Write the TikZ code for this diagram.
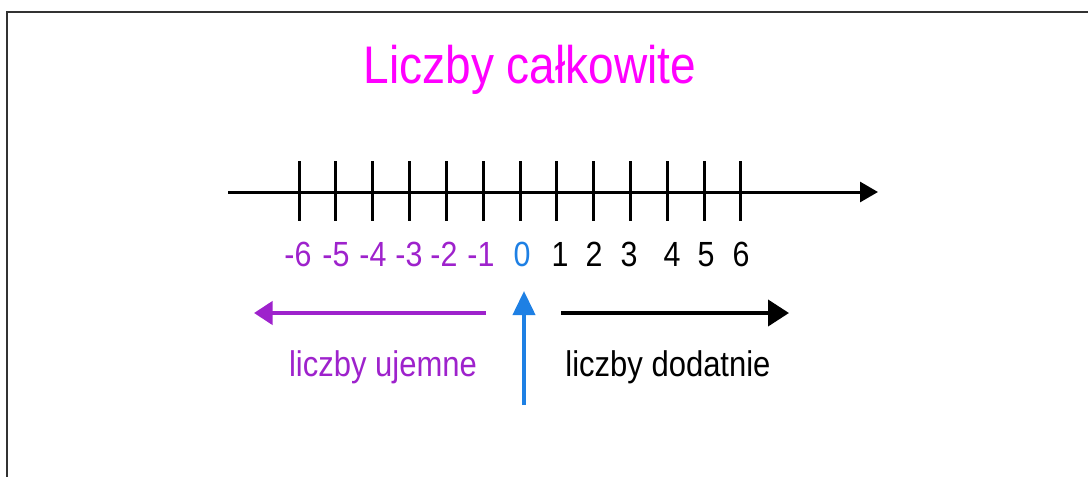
\documentclass[tikz,border=0pt]{standalone}
\usepackage{fontspec}
\setmainfont{Liberation Sans}
\usepackage{xcolor}
\usepackage{graphicx}
\usetikzlibrary{arrows.meta}

\definecolor{tytul}{RGB}{255,0,255}
\definecolor{ujemne}{RGB}{158,34,204}
\definecolor{zero}{RGB}{30,128,228}
\definecolor{ramka}{RGB}{50,50,50}
\newcommand{\wys}[1]{\scalebox{1}[1.15]{#1}}

\begin{document}
\begin{tikzpicture}[x=0.5pt, y=-0.5pt,
    cyfra/.style={anchor=base, font=\fontsize{15.2}{18}\selectfont},
    opis/.style={anchor=base, font=\fontsize{15.5}{19}\selectfont},
    strzalka/.style={line width=2pt}]
        \useasboundingbox (0,0) rectangle (1088,477);

        % Frame
        \draw[ramka, line width=1pt] (7,477) -- (7,12) -- (1088,12);

        % Title
        \node[tytul, anchor=base, font=\fontsize{23}{27}\selectfont] (title) at (530,83) {\wys{Liczby całkowite}};

        % Number line
        \coordinate (osL) at (228,192);
        \coordinate (osP) at (878,192);
        \draw[line width=1.5pt, -{Triangle[length=9pt, width=10pt]}] (osL) -- (osP);
        \foreach \i in {-6,...,6}
            \draw[line width=1.5pt] (520+36.83*\i,161) -- (520+36.83*\i,221);

        % Labels under the ticks
        \foreach \n/\x in {-6/298, -5/336, -4/373, -3/409, -2/444, -1/481}
            \node[cyfra, ujemne] (n\n) at (\x,266) {\wys{\n}};
        \node[cyfra, zero] (n0) at (522,266) {\wys{0}};
        \foreach \n/\x in {1/560, 2/594, 3/629, 4/672, 5/706, 6/741}
            \node[cyfra] (n\n) at (\x,266) {\wys{\n}};

        % Directions
        \coordinate (ujS) at (486,313);
        \coordinate (ujK) at (254,313);
        \coordinate (doS) at (561,313);
        \coordinate (doK) at (789,313);
        \coordinate (zeroS) at (524,405);
        \coordinate (zeroK) at (524,291);
        \draw[strzalka, ujemne, -{Triangle[length=9.25pt, width=11.5pt]}] (ujS) -- (ujK);
        \draw[strzalka, -{Triangle[length=10.5pt, width=13pt]}] (doS) -- (doK);
        \draw[strzalka, zero, -{Triangle[length=12pt, width=11pt]}] (zeroS) -- (zeroK);

        \node[opis, ujemne] (neg) at (383,376) {\wys{liczby ujemne}};
        \node[opis] (pos) at (668,376) {\wys{liczby dodatnie}};
    \end{tikzpicture}
\end{document}
